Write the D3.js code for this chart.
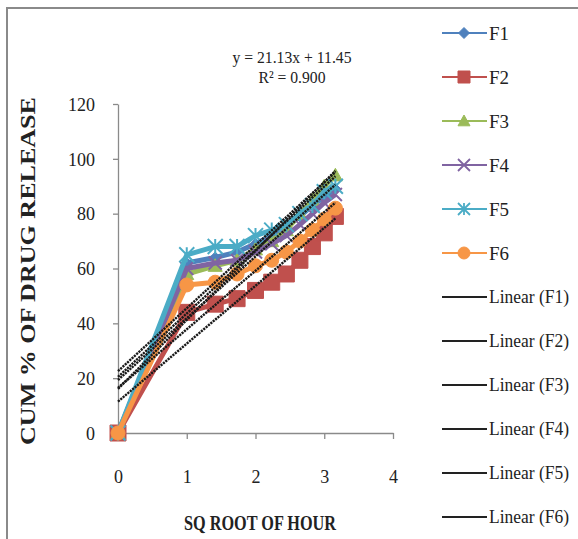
<!DOCTYPE html>
<html>
<head>
<meta charset="utf-8">
<script src="https://cdn.jsdelivr.net/npm/d3@7"></script>
<style>
  html, body { margin: 0; padding: 0; background: #fff; }
  svg { display: block; }
  text { font-family: "Liberation Serif", "DejaVu Serif", serif; fill: #222; }
</style>
</head>
<body>
<svg id="chart" width="578" height="539"></svg>
<script>
// Square root of time (hours 0..10)
const sqrtHours = [0, 1, 1.414, 1.732, 2, 2.236, 2.449, 2.646, 2.828, 3, 3.162];

// Cumulative % drug release per formulation
const F1 = [0, 62, 64, 66, 69, 72, 75, 79, 83, 86, 89];
const F2 = [0, 44, 47, 49, 52, 55, 58, 63, 68, 73, 79];
const F3 = [0, 58, 61, 63, 67, 70, 74, 80, 85, 90, 94];
const F4 = [0, 60, 62, 63, 66, 69, 72, 76, 80, 84, 87];
const F5 = [0, 65, 68, 68, 72, 74, 76, 80, 83, 88, 90];
const F6 = [0, 54, 55, 58, 61, 63, 66, 70, 74, 78, 82];

const seriesNames = ["F1", "F2", "F3", "F4", "F5", "F6"];
const seriesValues = [F1, F2, F3, F4, F5, F6];

// Linear trend lines (slope, intercept) per formulation
const trendSlope = [23.15, 21.13, 25.14, 22.54, 22.96, 21.35];
const trendIntercept = [20.45, 11.45, 16.10, 19.33, 22.55, 16.49];
const trendR2 = [null, 0.900, null, null, null, null];
const labelledTrend = 1; // F2

const xTicks = [0, 1, 2, 3, 4];
const yTicks = [0, 20, 40, 60, 80, 100, 120];

const colors = ["#4F81BD", "#C0504D", "#9BBB59", "#8064A2", "#4BACC6", "#F79646"];
const markers = ["diamond", "square", "triangle", "cross", "star", "circle"];

const svg = d3.select("#chart");

// outer chart frame
svg.append("path")
  .attr("d", "M7,545 L7,8 L585,8")
  .attr("fill", "none").attr("stroke", "#8a8a8a").attr("stroke-width", 2);

const x = d3.scaleLinear().domain([0, 4]).range([118, 393]);
const y = d3.scaleLinear().domain([0, 120]).range([433, 104]);

// axes
const xAxis = svg.append("g").attr("transform", `translate(0,${y(0)})`)
  .call(d3.axisBottom(x).tickValues(xTicks).tickFormat(d3.format("d"))
    .tickSize(6).tickSizeOuter(0).tickPadding(44));
const yAxis = svg.append("g").attr("transform", `translate(${x(0)},0)`)
  .call(d3.axisLeft(y).tickValues(yTicks).tickSize(5).tickSizeOuter(0).tickPadding(18));
[xAxis, yAxis].forEach(g => {
  g.selectAll("path, line").attr("stroke", "#8a8a8a").attr("stroke-width", 1.3);
  g.selectAll("text")
    .style("font-family", '"Liberation Serif", serif')
    .style("font-size", "18px")
    .attr("fill", "#333");
});
xAxis.selectAll("text").attr("dy", "0");
yAxis.selectAll("text").attr("dy", "0.35em");

function markerPath(type, size) {
  const s = size / 2;
  switch (type) {
    case "diamond": return `M0,${-s}L${s},0L0,${s}L${-s},0Z`;
    case "square": return `M${-s},${-s}H${s}V${s}H${-s}Z`;
    case "triangle": return `M0,${-s}L${s},${s * 0.8}L${-s},${s * 0.8}Z`;
    case "circle": return d3.symbol(d3.symbolCircle, Math.PI * s * s)();
    case "cross": return `M${-s},${-s}L${s},${s}M${-s},${s}L${s},${-s}`;
    case "star": return `M${-s},${-s}L${s},${s}M${-s},${s}L${s},${-s}M0,${-s}V${s}`;
  }
}
const markerSize = [11, 16, 14, 13, 15, 14];

const plot = svg.append("g");
const line = d3.line().x(d => x(d[0])).y(d => y(d[1]));

seriesValues.forEach((vals, i) => {
  const pts = vals.map((v, k) => [sqrtHours[k], v]);
  const g = plot.append("g");
  g.append("path").attr("d", line(pts))
    .attr("fill", "none").attr("stroke", colors[i]).attr("stroke-width", 5)
    .attr("stroke-linejoin", "round");
  const stroked = markers[i] === "cross" || markers[i] === "star";
  g.selectAll("path.m").data(pts).join("path").attr("class", "m")
    .attr("transform", d => `translate(${x(d[0])},${y(d[1])})`)
    .attr("d", markerPath(markers[i], markerSize[i]))
    .attr("fill", stroked ? "none" : colors[i])
    .attr("stroke", colors[i])
    .attr("stroke-width", stroked ? 2 : 1);
});

// linear trend lines across the data range
const xMin = d3.min(sqrtHours), xMax = d3.max(sqrtHours);
trendSlope.forEach((m, i) => {
  const b = trendIntercept[i];
  plot.append("path")
    .attr("d", line([[xMin, m * xMin + b], [xMax, m * xMax + b]]))
    .attr("fill", "none").attr("stroke", "#1a1a1a").attr("stroke-width", 2.4)
    .attr("stroke-dasharray", "2.2,0.9");
});

// trend equation label
const eqM = trendSlope[labelledTrend], eqB = trendIntercept[labelledTrend];
svg.append("text").attr("x", 292).attr("y", 63).attr("text-anchor", "middle")
  .attr("textLength", 119).attr("lengthAdjust", "spacingAndGlyphs")
  .style("font-size", "17px")
  .text(`y = ${eqM.toFixed(2)}x + ${eqB.toFixed(2)}`);
svg.append("text").attr("x", 292).attr("y", 83).attr("text-anchor", "middle")
  .attr("textLength", 67).attr("lengthAdjust", "spacingAndGlyphs")
  .style("font-size", "17px")
  .text(`R² = ${trendR2[labelledTrend].toFixed(3)}`);

// axis titles
svg.append("text").attr("x", 260).attr("y", 530).attr("text-anchor", "middle")
  .attr("textLength", 152).attr("lengthAdjust", "spacingAndGlyphs")
  .style("font-size", "22px").style("font-weight", "bold")
  .text("SQ ROOT OF HOUR");
svg.append("text")
  .attr("transform", "translate(35,271) rotate(-90)")
  .attr("text-anchor", "middle")
  .attr("textLength", 348).attr("lengthAdjust", "spacingAndGlyphs")
  .style("font-size", "20px").style("font-weight", "bold")
  .text("CUM % OF DRUG RELEASE");

// legend
const legendY = i => 33 + 44 * i;
const lg = svg.append("g");
seriesNames.forEach((name, i) => {
  const cy = legendY(i);
  lg.append("line").attr("x1", 442).attr("x2", 487).attr("y1", cy).attr("y2", cy)
    .attr("stroke", colors[i]).attr("stroke-width", 2.2);
  const stroked = markers[i] === "cross" || markers[i] === "star";
  lg.append("path").attr("transform", `translate(464,${cy})`)
    .attr("d", markerPath(markers[i], Math.min(markerSize[i], 12)))
    .attr("fill", stroked ? "none" : colors[i])
    .attr("stroke", colors[i]).attr("stroke-width", stroked ? 1.8 : 1);
  lg.append("text").attr("x", 489).attr("y", cy).attr("dy", "0.35em")
    .attr("textLength", 20).attr("lengthAdjust", "spacingAndGlyphs")
    .style("font-size", "19px").text(name);
});
seriesNames.forEach((name, i) => {
  const cy = legendY(6 + i);
  lg.append("line").attr("x1", 442).attr("x2", 487).attr("y1", cy).attr("y2", cy)
    .attr("stroke", "#222").attr("stroke-width", 2);
  lg.append("text").attr("x", 489).attr("y", cy).attr("dy", "0.35em")
    .attr("textLength", 80).attr("lengthAdjust", "spacingAndGlyphs")
    .style("font-size", "18px").text(`Linear (${name})`);
});
</script>
</body>
</html>
